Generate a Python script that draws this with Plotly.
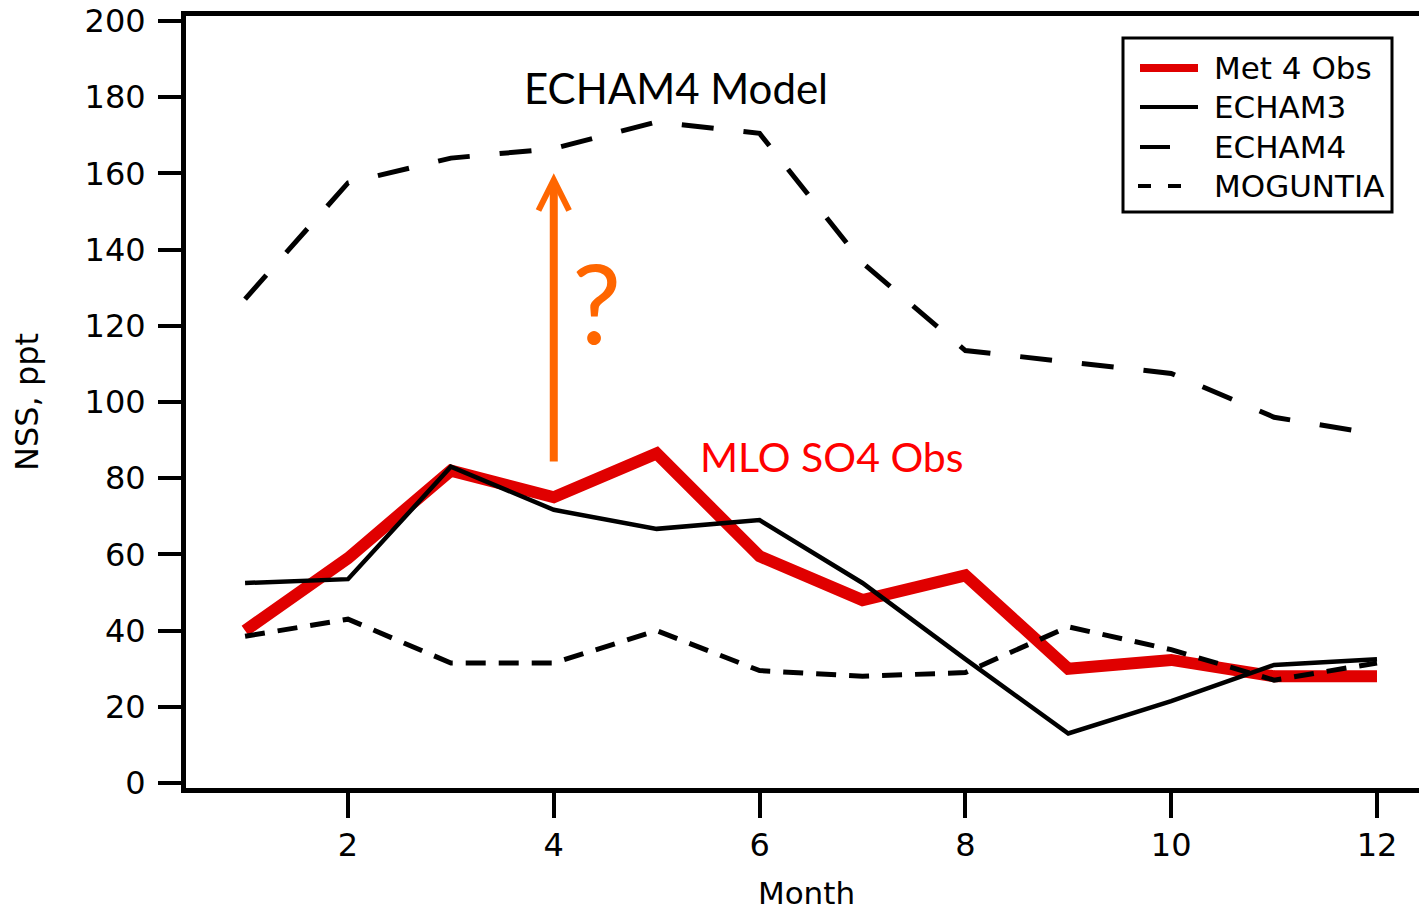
import plotly.graph_objects as go

months = list(range(1, 13))
met4_obs = [40, 59, 82, 75, 86.5, 59.5, 48, 54.5, 30, 32.3, 28, 28]
echam3 = [52.5, 53.5, 83, 71.7, 66.7, 69, 52.5, 32.5, 13, 21.5, 31, 32.5]
echam4 = [127, 157.5, 164, 166.5, 173.5, 170.5, 136.5, 113.5, 110.5, 107.5, 96, 91.5]
moguntia = [38.5, 43, 31.5, 31.5, 40, 29.5, 28, 29, 41, 35, 27, 31.5]
series_names = ["Met 4 Obs", "ECHAM3", "ECHAM4", "MOGUNTIA"]
x_ticks = [2, 4, 6, 8, 10, 12]
y_ticks = [0, 20, 40, 60, 80, 100, 120, 140, 160, 180, 200]

# page offset (body margin) and plot area in screen pixels
OFF = 8
W, H = 1427, 910
L, R, T, B = 186, 1427, 16, 788

def px(x):
    return (x - L) / (R - L)

def py(y):
    return (B - y) / (B - T)

fig = go.Figure()
fig.add_trace(go.Scatter(x=months, y=met4_obs, mode="lines", name=series_names[0],
                         line=dict(color="#E00000", width=12), showlegend=False))
fig.add_trace(go.Scatter(x=months, y=echam3, mode="lines", name=series_names[1],
                         line=dict(color="black", width=4.5), showlegend=False))
fig.add_trace(go.Scatter(x=months, y=echam4, mode="lines", name=series_names[2],
                         line=dict(color="black", width=5, dash="32px,30px"), showlegend=False))
fig.add_trace(go.Scatter(x=months, y=moguntia, mode="lines", name=series_names[3],
                         line=dict(color="black", width=5, dash="20px,13px"), showlegend=False))

tick_font = dict(family="DejaVu Sans", size=32, color="black")
fig.update_layout(
    width=W, height=H,
    margin=dict(l=L - OFF, r=W - R + OFF, t=T - OFF, b=H - (B - OFF)),
    plot_bgcolor="white", paper_bgcolor="white",
    xaxis=dict(range=[0.426, 12.486], tickvals=x_ticks, ticks="outside", ticklen=25,
               tickwidth=4, tickcolor="black", showline=True, linewidth=5, linecolor="black",
               mirror=True, showgrid=False, zeroline=False, tickfont=tick_font,
               ticklabeloverflow="allow", automargin=False,
               title=dict(text="Month", font=dict(family="DejaVu Sans", size=31, color="black"),
                          standoff=20)),
    yaxis=dict(range=[-1.31, 201.3], tickvals=y_ticks, ticks="outside", ticklen=23,
               tickwidth=4, tickcolor="black", showline=True, linewidth=5, linecolor="black",
               showgrid=False, zeroline=False, tickfont=tick_font, ticklabelstandoff=6,
               ticklabeloverflow="allow", automargin=False,
               title=dict(text="NSS, ppt", font=dict(family="DejaVu Sans", size=32, color="black"),
                          standoff=44)),
)

# Legend (custom box)
shapes = [dict(type="rect", xref="paper", yref="paper", x0=px(1123), x1=px(1392),
               y0=py(212), y1=py(38), line=dict(color="black", width=3), fillcolor="white", layer="above")]
rows = [68, 107, 147, 186]
shapes.append(dict(type="line", xref="paper", yref="paper", x0=px(1140), x1=px(1198),
                   y0=py(rows[0]), y1=py(rows[0]), line=dict(color="#E00000", width=8)))
shapes.append(dict(type="line", xref="paper", yref="paper", x0=px(1140), x1=px(1198),
                   y0=py(rows[1]), y1=py(rows[1]), line=dict(color="black", width=4)))
shapes.append(dict(type="line", xref="paper", yref="paper", x0=px(1140), x1=px(1170),
                   y0=py(rows[2]), y1=py(rows[2]), line=dict(color="black", width=4)))
shapes.append(dict(type="line", xref="paper", yref="paper", x0=px(1138), x1=px(1181),
                   y0=py(rows[3]), y1=py(rows[3]), line=dict(color="black", width=4, dash="13px,17px")))
fig.update_layout(shapes=shapes)

annotations = []
for name, r in zip(series_names, rows):
    annotations.append(dict(xref="paper", yref="paper", x=px(1212), y=py(r), text=name,
                            showarrow=False, xanchor="left", yanchor="middle",
                            font=dict(family="DejaVu Sans", size=31, color="black")))

annotations.append(dict(x=5.19, y=182.4, xref="x", yref="y", text="ECHAM4 Model", showarrow=False,
                        font=dict(family="Lato", size=42, color="black")))
annotations.append(dict(x=6.70, y=85.8, xref="x", yref="y", text="MLO SO4 Obs", showarrow=False,
                        font=dict(family="Lato", size=41, color="#FF0000")))
annotations.append(dict(x=4.42, y=126.5, xref="x", yref="y", text="?", showarrow=False,
                        font=dict(family="Lato", size=110, color="#FF6600")))
annotations.append(dict(x=4.0, y=160, xref="x", yref="y", ax=4.0, ay=84, axref="x", ayref="y",
                        text="", showarrow=True, arrowhead=5, arrowsize=0.75, arrowwidth=8,
                        arrowcolor="#FF6600", standoff=0))
fig.update_layout(annotations=annotations)

fig.write_html("out.html")
